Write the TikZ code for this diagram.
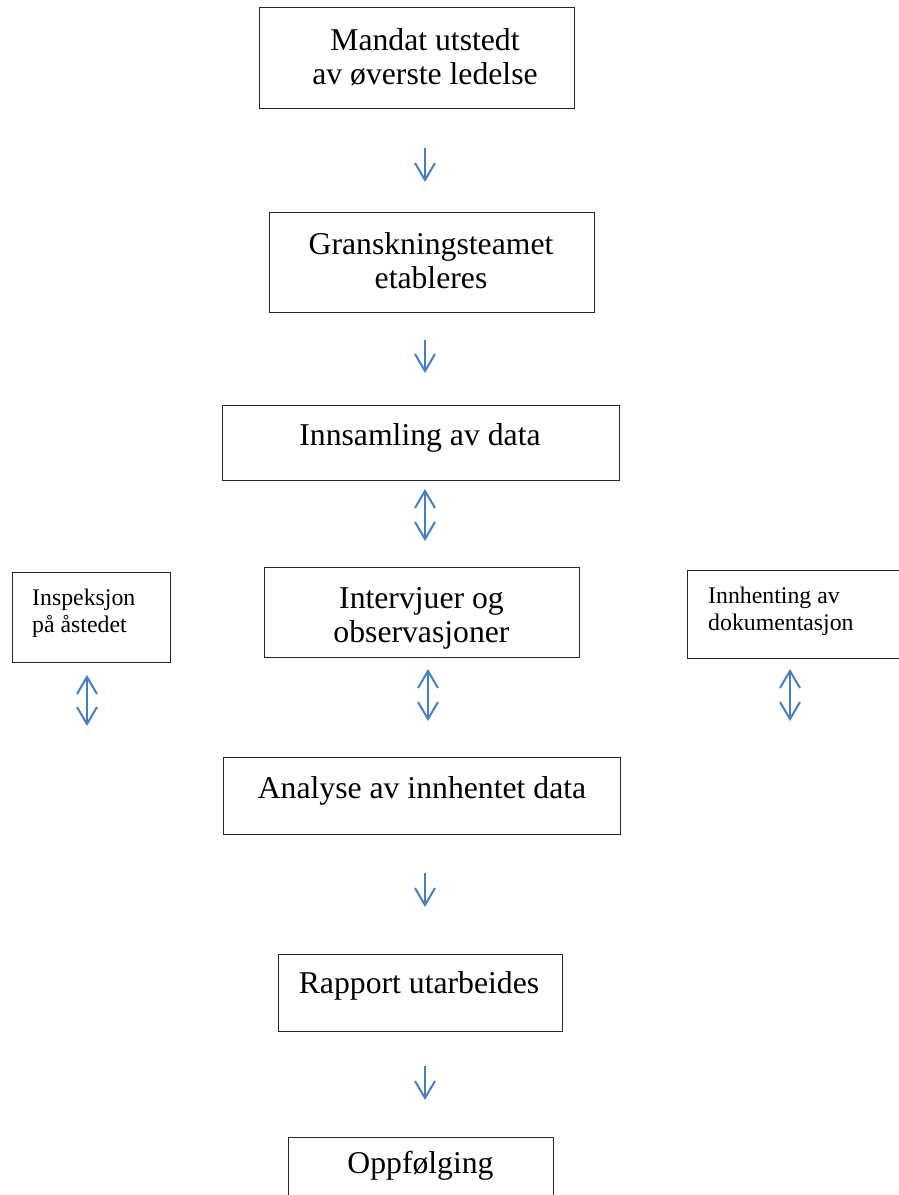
\documentclass[tikz,border=0pt]{standalone}
\usepackage{fontspec}
\setmainfont{Liberation Serif}
\usetikzlibrary{arrows.meta}
\definecolor{arrowblue}{HTML}{4A7EBB}
\tikzset{
  box/.style={draw=black!85, line width=1.3pt, inner sep=0pt, anchor=north west},
  bigtext/.style={font=\fontsize{31.7}{34}\selectfont, align=center, anchor=base, inner sep=0pt},
  smalltext/.style={font=\fontsize{23.8}{27}\selectfont, align=left, anchor=base west, inner sep=0pt},
  flow/.style={arrowblue, line width=2pt, -{Straight Barb[length=17pt,width=20pt]}},
  flowboth/.style={arrowblue, line width=2pt, {Straight Barb[length=17pt,width=20pt]}-{Straight Barb[length=17pt,width=20pt]}},
}
\begin{document}
\begin{tikzpicture}[x=1pt, y=-1pt]
\useasboundingbox (0,0) rectangle (899,1195);
\clip (0,0) rectangle (899,1195);
% boxes (text nodes sit on the last baseline)
\node[box, minimum width=315pt, minimum height=101pt] (mandat) at (259,7) {};
\node[bigtext] (mandattxt) at (425,84) {Mandat utstedt\\av øverste ledelse};
\node[box, minimum width=325pt, minimum height=100pt] (gransk) at (269,212) {};
\node[bigtext] (gransktxt) at (431,288) {Granskningsteamet\\etableres};
\node[box, minimum width=397pt, minimum height=75pt] (innsamling) at (222,405) {};
\node[bigtext] (innsamlingtxt) at (420,445) {Innsamling av data};
\node[box, minimum width=315pt, minimum height=90pt] (intervju) at (264,567) {};
\node[bigtext] (intervjutxt) at (421.5,642) {Intervjuer og\\observasjoner};
\node[box, minimum width=158pt, minimum height=90pt] (inspeksjon) at (12,572) {};
\node[smalltext] (inspeksjontxt) at (32,632) {Inspeksjon\\på åstedet};
\node[box, minimum width=230pt, minimum height=88pt] (innhenting) at (687,570) {};
\node[smalltext] (innhentingtxt) at (708,630) {Innhenting av\\dokumentasjon};
\node[box, minimum width=397pt, minimum height=77pt] (analyse) at (223,757) {};
\node[bigtext] (analysetxt) at (422,798) {Analyse av innhentet data};
\node[box, minimum width=284pt, minimum height=77pt] (rapport) at (278,954) {};
\node[bigtext] (rapporttxt) at (419,993) {Rapport utarbeides};
\node[box, minimum width=265pt, minimum height=80pt] (oppfolging) at (288,1137) {};
\node[bigtext] (oppfolgingtxt) at (420.5,1173) {Oppfølging};
% arrow ends
\coordinate (a1s) at (425,148);  \coordinate (a1e) at (425,182);
\coordinate (a2s) at (425,340);  \coordinate (a2e) at (425,373);
\coordinate (a3s) at (425,489);  \coordinate (a3e) at (425,541);
\coordinate (a4s) at (87,675);   \coordinate (a4e) at (87,726);
\coordinate (a5s) at (428,669);  \coordinate (a5e) at (428,721);
\coordinate (a6s) at (790,669);  \coordinate (a6e) at (790,721);
\coordinate (a7s) at (425,873);  \coordinate (a7e) at (425,907);
\coordinate (a8s) at (425,1066); \coordinate (a8e) at (425,1100);
% arrows
\draw[flow] (a1s) -- (a1e);
\draw[flow] (a2s) -- (a2e);
\draw[flowboth] (a3s) -- (a3e);
\draw[flowboth] (a4s) -- (a4e);
\draw[flowboth] (a5s) -- (a5e);
\draw[flowboth] (a6s) -- (a6e);
\draw[flow] (a7s) -- (a7e);
\draw[flow] (a8s) -- (a8e);
\end{tikzpicture}
\end{document}
